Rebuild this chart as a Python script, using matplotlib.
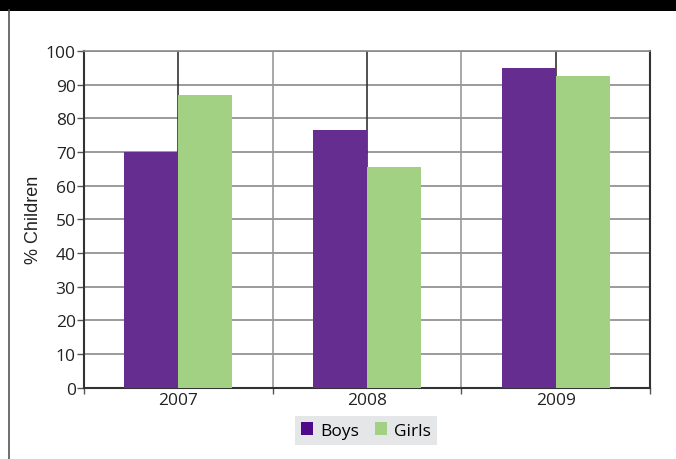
import matplotlib
matplotlib.use("Agg")
import matplotlib.pyplot as plt
from matplotlib.patches import Patch, Rectangle
from matplotlib.lines import Line2D
import numpy as np

years = ["2007", "2008", "2009"]
boys = [70, 76.5, 95]
girls = [87, 65.5, 92.5]
yticks = [0, 10, 20, 30, 40, 50, 60, 70, 80, 90, 100]

boys_color = "#652d90"
girls_color = "#a2d183"

W, H = 676, 460
fig = plt.figure(figsize=(W / 100, H / 100), dpi=100)
ax = fig.add_axes([84 / W, 1 - 388.7 / H, (650 - 84) / W, (388.7 - 52) / H])

x = np.arange(len(years))
bw = 0.287
ax.bar(x - bw / 2, boys, width=bw, color=boys_color, zorder=3)
ax.bar(x + bw / 2, girls, width=bw, color=girls_color, zorder=3)

ax.set_xlim(-0.5, len(years) - 0.5)
ax.set_ylim(0, 100)
ax.set_yticks(yticks)
ax.set_yticklabels([str(t) for t in yticks], fontsize=12.5, family="Open Sans", color="#222222")
ax.set_xticks(x)
ax.set_xticklabels(years, fontsize=12.5, family="Open Sans", color="#222222")
ax.set_xticks(np.arange(-0.5, len(years) + 0.5, 1.0), minor=True)
ax.tick_params(axis="x", which="major", length=0, pad=3)
ax.tick_params(axis="x", which="minor", length=4, width=1, color="#555555")
ax.tick_params(axis="y", length=5, width=1, color="#555555", pad=1)

# gridlines
for t in yticks[1:]:
    ax.axhline(t, color="#8a8a8a", lw=1.2, zorder=1)
for b in np.arange(-0.5, len(years), 1.0)[1:-1]:
    ax.axvline(b, color="#999999", lw=1.2, zorder=1)
for c in x:
    ax.axvline(c, color="#333333", lw=1.2, zorder=1)

ax.spines["top"].set_color("#8a8a8a")
ax.spines["top"].set_linewidth(1.2)
for s in ["left", "right", "bottom"]:
    ax.spines[s].set_color("#333333")
    ax.spines[s].set_linewidth(1.5)

ax.set_ylabel("% Children", fontsize=13, family="Liberation Sans", color="#222222", labelpad=3)

# legend
handles = [Patch(facecolor="#4f0a8a", edgecolor="none"), Patch(facecolor=girls_color, edgecolor="none")]
leg = fig.legend(handles, ["Boys", "Girls"], loc="center", bbox_to_anchor=(366 / W, 1 - 431.5 / H),
                 ncol=2, frameon=True, fancybox=False, handlelength=0.7, handleheight=0.7,
                 handletextpad=0.4, columnspacing=0.9, borderpad=0.35,
                 prop={"family": "Open Sans", "size": 12.5})
leg.get_frame().set_facecolor("#e5e6e8")
leg.get_frame().set_edgecolor("none")
leg.get_frame().set_alpha(1)

# decorative frame: black top bar and left border
fig.patches.append(Rectangle((0, 1 - 11.5 / H), 1, 11.5 / H, transform=fig.transFigure,
                             facecolor="black", edgecolor="none"))
fig.lines.append(Line2D([9 / W, 9 / W], [0, 1 - 11 / H], transform=fig.transFigure,
                        color="#555555", lw=1.2))

fig.savefig("out.png", dpi=100)
